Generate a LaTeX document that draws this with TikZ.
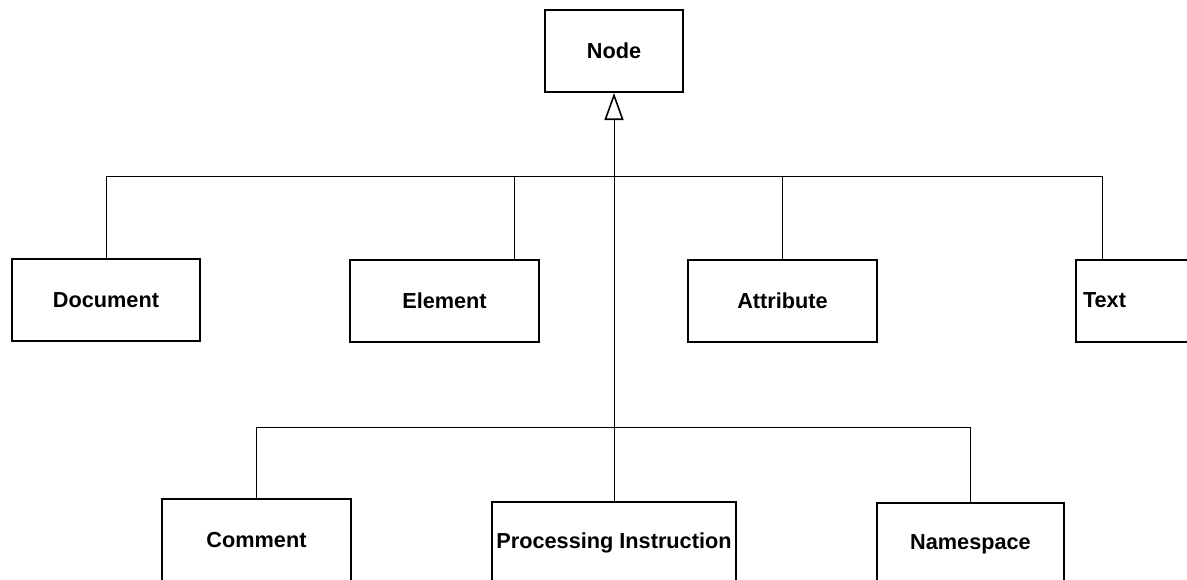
\documentclass[tikz,border=0pt]{standalone}
\usepackage{fontspec}
\setmainfont{Liberation Sans}
\usetikzlibrary{arrows.meta,calc}
\tikzset{
  umlbox/.style={draw=black, line width=2pt, fill=white, rectangle, inner sep=0pt,
    minimum height=82pt, font=\fontsize{21.7}{26}\selectfont\bfseries},
  conn/.style={draw=black, line width=1pt},
  inherit/.style={-{Triangle[open, length=27pt, width=19pt, line width=1.6pt]}}
}
\begin{document}
\begin{tikzpicture}[x=1pt, y=-1pt]
\useasboundingbox (0,0) rectangle (1187,579);
\clip (0,0) rectangle (1187,579);
% nodes
\node[umlbox, minimum width=138pt] (node) at (614,51) {Node};
\node[umlbox, minimum width=188pt] (document) at (106,300) {Document};
\node[umlbox, minimum width=189pt] (element) at (444.5,301) {Element};
\node[umlbox, minimum width=189pt] (attribute) at (782.5,301) {Attribute};
\node[umlbox, minimum width=188pt, text width=174pt, align=left, inner xsep=7pt] (text) at (1170,300.5) {Text};
\node[umlbox, minimum width=189pt] (comment) at (256.5,540) {Comment};
\node[umlbox, minimum width=244pt] (pi) at (614,543) {Processing Instruction};
\node[umlbox, minimum width=187pt] (namespace) at (970.5,544) {Namespace};
% bus coordinates
\coordinate (busT) at (613,176);
\coordinate (busB) at (613,427);
\coordinate (elemT) at ($(element.north west)+(165,0)$);
\coordinate (textT) at ($(text.north west)+(27,0)$);
% connectors
\draw[conn] (document.north) |- (textT |- busT) -- (textT);
\draw[conn] (elemT) -- (elemT |- busT);
\draw[conn] (attribute.north) -- (attribute.north |- busT);
\draw[conn] (comment.north) |- (namespace.north |- busB) -- (namespace.north);
\draw[conn, inherit] (pi.north) -- (node.south);
\end{tikzpicture}
\end{document}
